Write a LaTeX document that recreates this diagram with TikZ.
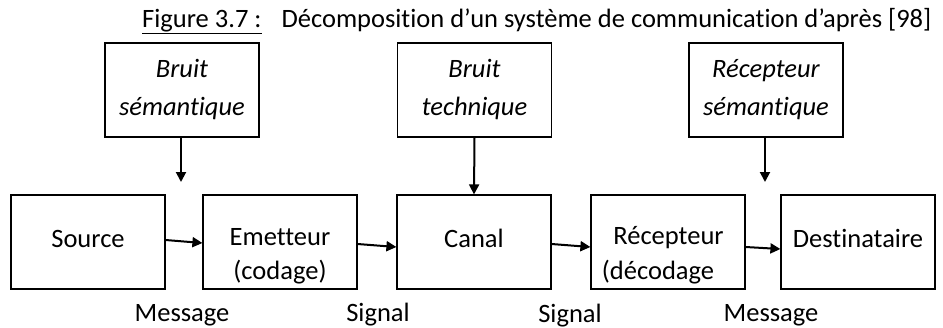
\documentclass[tikz,border=0pt]{standalone}
\usepackage{fontspec}
\setmainfont[Ligatures={NoCommon}]{Carlito}
\usetikzlibrary{arrows.meta}
\begin{document}
\begin{tikzpicture}[x=1pt,y=-1pt,
  box/.style={draw, line width=1.2pt, minimum width=154pt, minimum height=94pt, inner sep=0pt},
  txt/.style={font=\fontsize{26.5}{30}\selectfont, anchor=base, inner sep=0pt},
  itxt/.style={font=\fontsize{26.5}{30}\selectfont\itshape, anchor=base, inner sep=0pt},
  arr/.style={line width=2pt, -{Triangle[length=10pt,width=10pt]}}]
\useasboundingbox (0,0) rectangle (943,327);
% title
\node[txt, anchor=base west] (title) at (142,27) {\underline{Figure 3.7 :}\hspace{14pt} Décomposition d’un système de communication d’après [98]};
% top boxes
\node[box] (bs) at (182,90) {};
\node[box] (bt) at (474.5,90) {};
\node[box] (rs) at (766,90) {};
\node[itxt] (bs1) at (182,77) {Bruit};
\node[itxt] (bs2) at (182,115) {sémantique};
\node[itxt] (bt1) at (474.5,77) {Bruit};
\node[itxt] (bt2) at (474.5,115) {technique};
\node[itxt] (rs1) at (766,77) {Récepteur};
\node[itxt] (rs2) at (766,115) {sémantique};
% bottom boxes
\node[box] (src) at (88,242) {};
\node[box] (emt) at (280,242) {};
\node[box] (can) at (474,242) {};
\node[box] (rec) at (668,242) {};
\node[box] (dst) at (858,242) {};
\node[txt] (src1) at (88,247) {Source};
\node[txt] (emt1) at (280,245) {Emetteur};
\node[txt] (emt2) at (280,279) {(codage)};
\node[txt] (can1) at (474,247) {Canal};
\node[txt] (rec1) at (668.5,244) {Récepteur};
\node[txt] (rec2) at (658,279) {(décodage};
\node[txt] (dst1) at (858,247) {Destinataire};
% labels
\node[txt] (m1) at (182,321) {Message};
\node[txt] (s1) at (378,321) {Signal};
\node[txt] (s2) at (570,322) {Signal};
\node[txt] (m2) at (771,321) {Message};
% arrows
\coordinate (bsTip) at (181,182);
\coordinate (rsTip) at (765,182);
\draw[arr] (bs.south -| bsTip) -- (bsTip);
\draw[arr] (bt.south) -- (can.north);
\draw[arr] (rs.south -| rsTip) -- (rsTip);
\draw[arr] ([yshift=2pt]src.east) -- ([yshift=-1pt]emt.west);
\draw[arr] ([yshift=-2pt]emt.east) -- ([yshift=-5pt]can.west);
\draw[arr] ([yshift=-2pt]can.east) -- ([yshift=-5pt]rec.west);
\draw[arr] ([yshift=-5pt]rec.east) -- ([yshift=-7pt]dst.west);
\end{tikzpicture}
\end{document}
